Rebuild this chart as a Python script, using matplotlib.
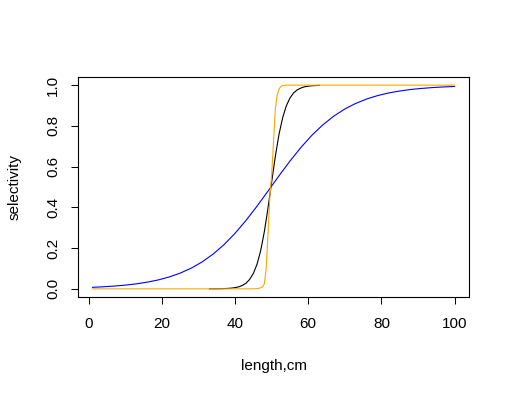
import matplotlib
matplotlib.use("Agg")
import matplotlib.pyplot as plt

plt.rcParams['font.family'] = ['Liberation Sans', 'DejaVu Sans']

# blue curve
blue_x = [1, 4, 7, 10, 13, 16, 19, 22, 25, 28, 31, 34, 37, 40, 43, 46, 49, 52, 55, 58, 61, 64,
          67, 70, 73, 76, 79, 82, 85, 88, 91, 94, 97, 100]
blue_y = [0.0075, 0.0102, 0.0137, 0.0183, 0.0246, 0.0329, 0.0439, 0.0584, 0.0773, 0.1015, 0.1324,
          0.1708, 0.2175, 0.2729, 0.3363, 0.4061, 0.4800, 0.5548, 0.6271, 0.6942, 0.7540, 0.8053,
          0.8481, 0.8829, 0.9105, 0.9321, 0.9489, 0.9616, 0.9713, 0.9786, 0.9840, 0.9881, 0.9912,
          0.9934]

# black curve
black_x = list(range(33, 64))
black_y = [0.0002, 0.0003, 0.0005, 0.0008, 0.0013, 0.0022, 0.0036, 0.006, 0.010, 0.017, 0.028,
           0.047, 0.076, 0.121, 0.188, 0.281, 0.397, 0.525, 0.650, 0.758, 0.840, 0.898, 0.937,
           0.962, 0.977, 0.986, 0.992, 0.995, 0.997, 0.998, 0.999]

# orange curve
orange_x = [1, 45, 46, 47, 47.5, 48, 48.5, 49, 49.5, 50, 50.5, 51, 51.5, 52, 52.5, 53, 54, 100]
orange_y = [0.0, 0.0, 0.001, 0.005, 0.01, 0.025, 0.1, 0.27, 0.45, 0.56, 0.72, 0.88, 0.95, 0.98,
            0.993, 0.998, 1.0, 1.0]

x_ticks = [0, 20, 40, 60, 80, 100]
y_ticks = [0.0, 0.2, 0.4, 0.6, 0.8, 1.0]
y_labels = ["0.0", "0.2", "0.4", "0.6", "0.8", "1.0"]

fig = plt.figure(figsize=(5.09, 3.94), dpi=100)
ax = fig.add_axes([78/509, 1-297/394, (469-78)/509, (297-77)/394])

lw = 0.8
ax.plot(blue_x, blue_y, color='blue', lw=lw)
ax.plot(black_x, black_y, color='black', lw=lw)
ax.plot(orange_x, orange_y, color='orange', lw=lw)

ax.set_xlim(1 - 0.04*99, 100 + 0.04*99)
ax.set_ylim(-0.04, 1.04)
ax.set_xticks(x_ticks)
ax.set_yticks(y_ticks)
ax.set_yticklabels(y_labels, rotation=90, va='center')

fs = 11
ax.tick_params(axis='both', direction='out', length=5, width=0.75, labelsize=fs, color='black')
ax.tick_params(axis='x', pad=9.3)
ax.tick_params(axis='y', pad=7.8)
for s in ax.spines.values():
    s.set_linewidth(0.8)
ax.set_xlabel("length,cm", fontsize=fs, labelpad=20.5)
ax.set_ylabel("selectivity", fontsize=fs, labelpad=18)

fig.savefig("out.png", dpi=100)
